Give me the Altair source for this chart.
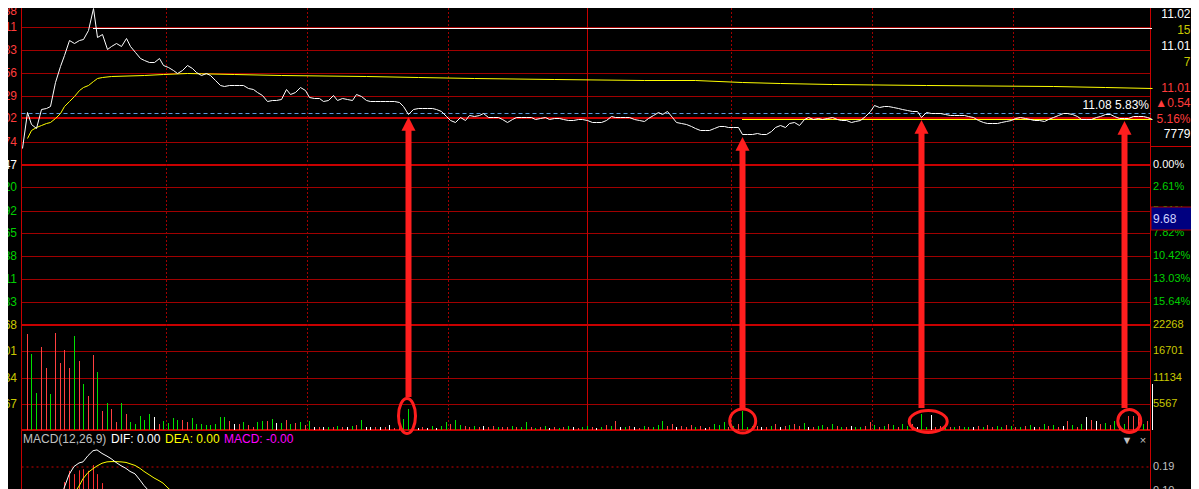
import altair as alt
import pandas as pd

FONT = "Liberation Sans"

# ---------------- data ----------------
prev_close = 10.47
price_step = 0.2725

# 1-minute price, minutes 0..240
price = [10.67, 11.09, 10.95, 10.90, 11.13, 11.14, 11.17, 11.45, 11.64, 11.77,
         11.95, 11.91, 11.95, 11.96, 12.07, 12.33, 11.99, 12.02, 11.84, 11.88,
         11.91, 11.88, 11.97, 11.88, 11.81, 11.74, 11.71, 11.69, 11.69, 11.74,
         11.65, 11.63, 11.59, 11.56, 11.59, 11.65, 11.62, 11.57, 11.53, 11.56,
         11.53, 11.47, 11.41, 11.40, 11.41, 11.41, 11.41, 11.41, 11.38, 11.37,
         11.33, 11.30, 11.22, 11.24, 11.24, 11.25, 11.37, 11.31, 11.33, 11.39,
         11.36, 11.27, 11.26, 11.26, 11.22, 11.24, 11.30, 11.24, 11.26, 11.25,
         11.24, 11.31, 11.28, 11.24, 11.22, 11.22, 11.22, 11.22, 11.22, 11.22,
         11.21, 11.17, 11.07, 11.13, 11.14, 11.14, 11.14, 11.14, 11.13, 11.11,
         11.05, 11.00, 10.98, 11.03, 11.00, 11.06, 11.05, 11.06, 11.08, 11.03,
         11.03, 11.03, 11.01, 10.98, 11.01, 11.03, 11.03, 11.03, 11.03, 11.01,
         11.02, 11.03, 11.01, 11.02, 11.02, 11.01, 11.00, 11.00, 11.01, 11.01,
         11.00, 10.98, 10.98, 10.98, 11.00, 11.05, 11.03, 11.03, 11.03, 11.03,
         11.01, 11.00, 10.99, 11.02, 11.06, 11.09, 11.07, 11.11, 11.03, 10.98,
         10.96, 10.95, 10.93, 10.90, 10.88, 10.88, 10.88, 10.90, 10.93, 10.93,
         10.92, 10.92, 10.92, 10.83, 10.83, 10.83, 10.84, 10.83, 10.83, 10.87,
         10.92, 10.94, 10.92, 10.96, 10.98, 10.94, 11.01, 11.03, 11.01, 11.02,
         11.01, 11.02, 11.03, 11.01, 11.00, 11.00, 10.98, 10.99, 11.00, 11.05,
         11.11, 11.18, 11.15, 11.17, 11.17, 11.15, 11.14, 11.13, 11.12, 11.11,
         11.11, 11.03, 11.09, 11.08, 11.08, 11.08, 11.07, 11.06, 11.06, 11.06,
         11.06, 11.05, 11.03, 11.00, 10.98, 10.96, 10.96, 10.96, 10.98, 10.99,
         11.00, 11.02, 11.03, 11.02, 11.01, 11.00, 11.00, 10.99, 11.01, 11.03,
         11.06, 11.08, 11.08, 11.07, 11.05, 11.01, 11.01, 11.01, 11.03, 11.05,
         11.07, 11.07, 11.05, 11.02, 11.02, 11.02, 11.05, 11.05, 11.05, 11.03,
         11.01]

# average-price line, read at its turning points
avg_min = [1, 2, 3, 4, 5, 6, 7, 8, 9, 10, 11, 12, 13, 14, 15, 16, 17, 19, 26, 30,
           35, 45, 55, 73, 84, 96, 113, 132, 143, 153, 161, 172, 192, 219, 230, 240]
avg_val = [10.79, 10.88, 10.92, 10.94, 10.96, 10.98, 11.02, 11.08, 11.17, 11.22,
           11.28, 11.36, 11.39, 11.41, 11.46, 11.50, 11.51, 11.52, 11.53, 11.54,
           11.56, 11.55, 11.53, 11.52, 11.51, 11.50, 11.49, 11.48, 11.47, 11.45,
           11.44, 11.43, 11.42, 11.40, 11.39, 11.38]

# volume per minute, minutes 1..240
volume = [20350, 16110, 7840, 17600, 13140, 7630, 20560, 14200, 16960, 13140,
          19930, 14630, 9750, 7210, 15900, 12300, 4030, 5720, 4450, 1700,
          5720, 3390, 1700, 1270, 2970, 2120, 3390, 2760, 1270, 1910,
          1480, 2540, 2120, 2120, 1700, 2540, 1270,
          1270, 1060, 1060, 1270, 2760, 2760, 1910, 1270, 1270, 1700,
          1060, 640, 1700, 1910, 1910, 2330, 1480, 1480, 2120, 1270,
          1480, 1700, 1060, 1910, 640, 640, 640, 640, 640, 850,
          640, 640, 850, 1060, 2120, 640, 640, 640, 640, 640,
          1060, 420, 640, 2330, 4450, 640, 420, 640, 420, 850,
          420, 850, 1700, 1270, 2120, 1060, 850, 640, 850, 640,
          850, 640, 850, 640, 640, 640, 850, 640, 640, 1700,
          640, 420, 640, 850, 420, 640, 420, 640, 850, 640,
          420, 640, 850, 640, 420, 640, 1060, 850, 1910, 640,
          640, 850, 640, 420, 850, 640, 640, 1060, 1910, 850,
          1270, 640, 850, 640, 1060, 640, 850, 420, 640, 1270,
          1060, 1700, 640, 850, 1270, 4030, 640, 850, 850, 640,
          640, 850, 1270, 640, 850, 1060, 1270, 850, 1480, 640,
          640, 850, 1060, 640, 1270, 850, 640, 640, 850, 640,
          640, 850, 1700, 1060, 640, 850, 1270, 1060, 640, 1270,
          850, 1270, 640, 3390, 640, 3180, 640, 850, 640, 640,
          640, 850, 640, 640, 640, 850, 640, 1060, 640, 850,
          640, 1060, 850, 640, 640, 850, 1060, 640, 640, 1270,
          850, 1060, 640, 850, 1910, 1060, 640, 1270, 2760, 2120,
          1910, 1270, 1480, 1060, 1910, 1270, 1270, 2970, 2970, 2970,
          1270, 1910, 9750]
# bar colour per minute: r = up, g = down, w = unchanged
vol_dir = ("rggrrgrrrr" "grgrrgrgrr" "grgggggwrg" "gggrrgg"
           "ggggggrwrg" "rrggrgwgrg" "rgrgwrwgrg" "rwgrgwwrwr"
           "wrrggwwrwg" "wggrggrrgr" "wrrgrrgrgg" "rgrgwrgrgw"
           "rggrwgrgrw" "grwrgrgggr" "rwrrrgrwrg" "ggrgrgggrw"
           "rgrwrgrrgw" "rggrgrgrwg" "grrgrgrgrg" "grwggwrrgr"
           "grggwrgrrg" "grgrgrgwrg" "rgrwrgrgwr" "wrgrgrgrrr" "grw")

price_ticks = [12.38, 12.11, 11.83, 11.56, 11.29, 11.02, 10.74, 10.47,
               10.20, 9.92, 9.65, 9.38, 9.11, 8.83]
thick_prices = [10.47, 11.02]
pct_ticks = [10.47, 10.20, 9.92, 9.65, 9.38, 9.11, 8.83]
pct_labels = ["0.00%", "2.61%", "5.21%", "7.82%", "10.42%", "13.03%", "15.64%"]
vol_ticks = [5567, 11134, 16701, 22268]
macd_ticks = [0.19, 0.10]
time_dotted = [30.5, 60.5, 90.5, 150.5, 180.5, 210.5]
time_noon = [120]

dif_min = [8, 9, 10, 11, 12, 13, 14, 15, 16, 17, 18, 19, 20, 21, 22, 23, 24, 25, 26, 27, 28]
dif_val = [0.08, 0.11, 0.16, 0.19, 0.203, 0.207, 0.23, 0.248, 0.251, 0.238, 0.228,
           0.219, 0.205, 0.193, 0.183, 0.172, 0.163, 0.14, 0.12, 0.10, 0.08]
dea_min = [11, 12, 13, 14, 15, 16, 17, 18, 19, 20, 21, 22, 23, 24, 25, 26, 27, 28,
           29, 30, 31, 32]
dea_val = [0.09, 0.118, 0.145, 0.168, 0.182, 0.192, 0.202, 0.207, 0.208, 0.208,
           0.207, 0.205, 0.20, 0.194, 0.183, 0.172, 0.16, 0.148, 0.138, 0.129,
           0.111, 0.095]
macd_min = [9, 10, 11, 12, 13, 14, 15, 16, 17]
macd_val = [0.133, 0.174, 0.162, 0.176, 0.180, 0.174, 0.195, 0.162, 0.129]

high_line = [15, 240, 12.09]        # start minute, end minute, price
support_line = [153, 240, 11.005]   # start minute, end minute, price
hover_price = 11.08
cursor_price_label = "9.68"
arrow_min = [82, 153, 191, 234]

header_parts = ["MACD(12,26,9)", "DIF: 0.00", "DEA: 0.00", "MACD: -0.00"]
quote_top = ["11.02", "15", "11.01", "7"]
quote_top_kind = ["px", "qty", "px", "qty"]
total_volume = "7779"

assert len(price) == 241 and len(volume) == 240 and len(vol_dir) == 240

# ---------------- layout / style ----------------
W, H = 1183, 481
LEFT, RIGHT = 13.5, 1142.5
GRID = "#a00000"
GRID2 = "#c80000"
RED = "#ff3c3c"
GREEN = "#00d000"
YEL = "#c8c800"
ARROW = "#ff1e1e"

xs = alt.Scale(domain=[0, 240], range=[14, 1144], round=True)
ys_p = alt.Scale(domain=[prev_close - 7 * price_step, prev_close + 7 * price_step],
                 range=[317, -4], zero=False, nice=False, round=True)
ys_v = alt.Scale(domain=[0, vol_ticks[-1]], range=[422, 317], zero=False, nice=False, round=True)
ys_m = alt.Scale(domain=[macd_ticks[1], macd_ticks[0]], range=[483, 458.5], zero=False, nice=False)


def X(f):
    return alt.X(f"{f}:Q", scale=xs, axis=None)


def YP(f):
    return alt.Y(f"{f}:Q", scale=ys_p, axis=None)


def YV(f):
    return alt.Y(f"{f}:Q", scale=ys_v, axis=None)


def YM(f):
    return alt.Y(f"{f}:Q", scale=ys_m, axis=None)


one = pd.DataFrame({"a": [0]})
L = []

# price grid
thin_p = pd.DataFrame({"v": [t for t in price_ticks if t not in thick_prices]})
thick_p = pd.DataFrame({"v": thick_prices})
L.append(alt.Chart(thin_p).mark_rule(color=GRID, strokeWidth=1, yOffset=0.5).encode(
    y=YP("v"), x=alt.value(LEFT), x2=alt.value(RIGHT)))
L.append(alt.Chart(thick_p).mark_rule(color=GRID2, strokeWidth=2).encode(
    y=YP("v"), x=alt.value(LEFT), x2=alt.value(RIGHT)))
# volume grid
L.append(alt.Chart(pd.DataFrame({"v": vol_ticks[:-1]})).mark_rule(color=GRID, strokeWidth=1, yOffset=0.5).encode(
    y=YV("v"), x=alt.value(LEFT), x2=alt.value(RIGHT)))
L.append(alt.Chart(pd.DataFrame({"v": [0, vol_ticks[-1]]})).mark_rule(color=GRID2, strokeWidth=2).encode(
    y=YV("v"), x=alt.value(LEFT), x2=alt.value(RIGHT)))
# time grid
L.append(alt.Chart(pd.DataFrame({"m": time_dotted})).mark_rule(color=GRID, strokeDash=[2, 2], xOffset=0.5).encode(
    x=X("m"), y=alt.value(-8), y2=alt.value(422)))
L.append(alt.Chart(pd.DataFrame({"m": time_noon})).mark_rule(color=GRID2, xOffset=0.5).encode(
    x=X("m"), y=alt.value(-8), y2=alt.value(422)))
# borders
for bx in (LEFT, RIGHT):
    L.append(alt.Chart(one).mark_rule(color=GRID2, strokeWidth=1).encode(
        x=alt.value(bx), y=alt.value(-8), y2=alt.value(H)))
# MACD dotted level
L.append(alt.Chart(pd.DataFrame({"v": [macd_ticks[0]]})).mark_rule(color=GRID2, strokeDash=[2, 3], yOffset=0.5).encode(
    y=YM("v"), x=alt.value(LEFT), x2=alt.value(RIGHT)))
# blue dashed reference level
L.append(alt.Chart(pd.DataFrame({"v": [hover_price]})).mark_rule(color="#5a9be0", strokeDash=[4, 3], yOffset=0.5).encode(
    y=YP("v"), x=alt.value(LEFT), x2=alt.value(RIGHT)))
# white high line, yellow support line
L.append(alt.Chart(pd.DataFrame({"m1": [high_line[0]], "m2": [high_line[1]], "v": [high_line[2]]}))
         .mark_rule(color="white", yOffset=0.5).encode(x=X("m1"), x2="m2:Q", y=YP("v")))
L.append(alt.Chart(pd.DataFrame({"m1": [support_line[0]], "m2": [support_line[1]], "v": [support_line[2]]}))
         .mark_rule(color="#ffff00", yOffset=0.5).encode(x=X("m1"), x2="m2:Q", y=YP("v")))

# average & price lines
L.append(alt.Chart(pd.DataFrame({"m": avg_min, "p": avg_val})).mark_line(
    color="#ffff00", strokeWidth=1, xOffset=0.5, yOffset=0.5).encode(x=X("m"), y=YP("p")))
L.append(alt.Chart(pd.DataFrame({"m": list(range(241)), "p": price})).mark_line(
    color="white", strokeWidth=1, xOffset=0.5, yOffset=0.5).encode(x=X("m"), y=YP("p")))

# volume bars
df_vol = pd.DataFrame({"m": list(range(1, 241)), "v": volume, "d": list(vol_dir)})
L.append(alt.Chart(df_vol).mark_rule(strokeWidth=1, xOffset=0.5).encode(
    x=X("m"), y=YV("v"), y2=alt.datum(0),
    color=alt.Color("d:N", scale=alt.Scale(domain=["r", "g", "w"], range=["#ff4040", "#00e000", "#ffffff"]),
                    legend=None)))

# MACD panel
L.append(alt.Chart(pd.DataFrame({"m": macd_min, "v": macd_val})).mark_rule(color="#ff3030", xOffset=0.5).encode(
    x=X("m"), y=YM("v"), y2=alt.value(495)))
L.append(alt.Chart(pd.DataFrame({"m": dea_min, "v": dea_val})).mark_line(color="#ffff00", strokeWidth=1).encode(
    x=X("m"), y=YM("v")))
L.append(alt.Chart(pd.DataFrame({"m": dif_min, "v": dif_val})).mark_line(color="white", strokeWidth=1).encode(
    x=X("m"), y=YM("v")))

# ---- text ----
txt = dict(font=FONT, fontSize=12, baseline="middle")
rtxt = dict(font=FONT, fontSize=11, baseline="middle")
color_expr = f"datum.v > {prev_close} ? '{RED}' : (datum.v < {prev_close} ? '{GREEN}' : '#ffffff')"
top_tick = max(price_ticks)
df_pt = pd.DataFrame({"v": price_ticks})
L.append(alt.Chart(df_pt).transform_filter(f"datum.v < {top_tick}").transform_calculate(c=color_expr).mark_text(
    align="right", **txt).encode(x=alt.value(9), y=YP("v"), text=alt.Text("v:Q", format=".2f"),
                                 color=alt.Color("c:N", scale=None)))
L.append(alt.Chart(df_pt).transform_filter(f"datum.v >= {top_tick}").transform_calculate(c=color_expr).mark_text(
    align="right", dy=7, **txt).encode(x=alt.value(9), y=YP("v"), text=alt.Text("v:Q", format=".2f"),
                                       color=alt.Color("c:N", scale=None)))
L.append(alt.Chart(pd.DataFrame({"v": vol_ticks})).mark_text(align="right", color=YEL, **txt).encode(
    x=alt.value(9), y=YV("v"), text=alt.Text("v:Q", format="d")))
# right labels
L.append(alt.Chart(pd.DataFrame({"v": pct_ticks, "t": pct_labels})).transform_calculate(c=color_expr).mark_text(
    align="left", **rtxt).encode(x=alt.value(1145), y=YP("v"), text="t:N", color=alt.Color("c:N", scale=None)))
L.append(alt.Chart(pd.DataFrame({"v": vol_ticks})).mark_text(align="left", color=YEL, **rtxt).encode(
    x=alt.value(1145), y=YV("v"), text=alt.Text("v:Q", format="d")))
L.append(alt.Chart(pd.DataFrame({"v": macd_ticks})).mark_text(align="left", color="#c0c0c0", **rtxt).encode(
    x=alt.value(1145), y=YM("v"), text=alt.Text("v:Q", format=".2f")))

# quote panel
L.append(alt.Chart(one).mark_rule(color=GRID2).encode(
    x=alt.value(RIGHT), x2=alt.value(1192), y=alt.value(138.5)))
df_qt = pd.DataFrame({"i": list(range(4)), "t": quote_top, "k": quote_top_kind})
L.append(alt.Chart(df_qt).mark_text(align="right", **txt).encode(
    x=alt.value(1182.5),
    y=alt.Y("i:Q", scale=alt.Scale(domain=[0, 3], range=[6, 54]), axis=None),
    text="t:N",
    color=alt.Color("k:N", scale=alt.Scale(domain=["px", "qty"], range=["#ffffff", YEL]), legend=None)))
last = price[-1]
chg = last - prev_close
quote_bottom = [f"{last:.2f}", f"\u25b2{chg:.2f}", f"{chg / prev_close * 100:.2f}%", total_volume]
df_qb = pd.DataFrame({"i": list(range(4)), "t": quote_bottom, "k": ["up", "up", "up", "vol"]})
L.append(alt.Chart(df_qb).mark_text(align="right", **txt).encode(
    x=alt.value(1182.5),
    y=alt.Y("i:Q", scale=alt.Scale(domain=[0, 3], range=[80, 126]), axis=None),
    text="t:N",
    color=alt.Color("k:N", scale=alt.Scale(domain=["up", "vol"], range=[RED, "#ffffff"]), legend=None)))

# cursor price box
L.append(alt.Chart(one).mark_rect(fill="#000080", stroke="#b00000", strokeWidth=1).encode(
    x=alt.value(1143), x2=alt.value(1192), y=alt.value(199), y2=alt.value(222)))
L.append(alt.Chart(pd.DataFrame({"t": [cursor_price_label]})).mark_text(align="left", color="#d0d0ff", **txt).encode(
    x=alt.value(1145), y=alt.value(211), text="t:N"))

# hover label
hover_lab = f"{hover_price:.2f} {(hover_price / prev_close - 1) * 100:.2f}%"
L.append(alt.Chart(pd.DataFrame({"v": [hover_price], "t": [hover_lab]})).mark_text(
    align="right", color="white", dy=-8, **txt).encode(x=alt.value(1141), y=YP("v"), text="t:N"))

# MACD header
hdr_colors = ["#c0c0c0", "#ffffff", "#ffff00", "#ff00ff"]
hdr_x = [15, 103, 157, 216]
for part, col, hx in zip(header_parts, hdr_colors, hdr_x):
    L.append(alt.Chart(pd.DataFrame({"t": [part]})).mark_text(align="left", color=col, **txt).encode(
        x=alt.value(hx), y=alt.value(431), text="t:N"))
for sym, sx in (("\u25bc", 1119), ("\u00d7", 1135)):
    L.append(alt.Chart(pd.DataFrame({"t": [sym]})).mark_text(align="center", color="#c0c0c0", font=FONT,
                                                             fontSize=11, baseline="middle").encode(
        x=alt.value(sx), y=alt.value(433), text="t:N"))

# ---- arrows & ellipses ----
df_arr = pd.DataFrame({"m": arrow_min, "p": [price[m] for m in arrow_min], "k": ["a", "b", "c", "d"]})
L.append(alt.Chart(df_arr).transform_filter("datum.k == 'a'").mark_rule(
    color=ARROW, strokeWidth=6, yOffset=14, xOffset=0.5).encode(x=X("m"), y=YP("p"), y2=alt.value(389)))
L.append(alt.Chart(df_arr).transform_filter("datum.k != 'a'").mark_rule(
    color=ARROW, strokeWidth=6, yOffset=14, xOffset=0.5).encode(x=X("m"), y=YP("p"), y2=alt.value(400)))
L.append(alt.Chart(df_arr).mark_point(shape="M0,-1L1,0.95L-1,0.95Z", size=196, filled=True, fill=ARROW,
                                      opacity=1, strokeWidth=0, yOffset=10, xOffset=0.5).encode(
    x=X("m"), y=YP("p")))


def ell(cx, cy, rx, ry):
    return (f"M{cx - rx:.3f},{cy:.3f}A{rx:.3f} {ry:.3f} 0 1 0 {cx + rx:.3f},{cy:.3f}"
            f"A{rx:.3f} {ry:.3f} 0 1 0 {cx - rx:.3f},{cy:.3f}Z")


ell_paths = [ell(-0.05, -0.2, 0.425, 0.875), ell(0.035, 0.05, 0.65, 0.6),
             ell(0.36, 0.075, 0.95, 0.55), ell(0.265, 0.05, 0.575, 0.575)]
L.append(alt.Chart(df_arr).mark_point(size=1600, filled=False, stroke=ARROW, strokeWidth=3, opacity=1).encode(
    x=X("m"), y=alt.value(412),
    shape=alt.Shape("k:N", scale=alt.Scale(domain=["a", "b", "c", "d"], range=ell_paths), legend=None)))

chart = alt.layer(*L).resolve_scale(
    x="independent", y="independent", color="independent", shape="independent"
).properties(
    width=W, height=H, autosize=alt.AutoSizeParams(type="none"), padding=0, background="black"
).configure_view(stroke=None)

chart.save("out.html", embed_options={"renderer": "svg", "actions": False})
